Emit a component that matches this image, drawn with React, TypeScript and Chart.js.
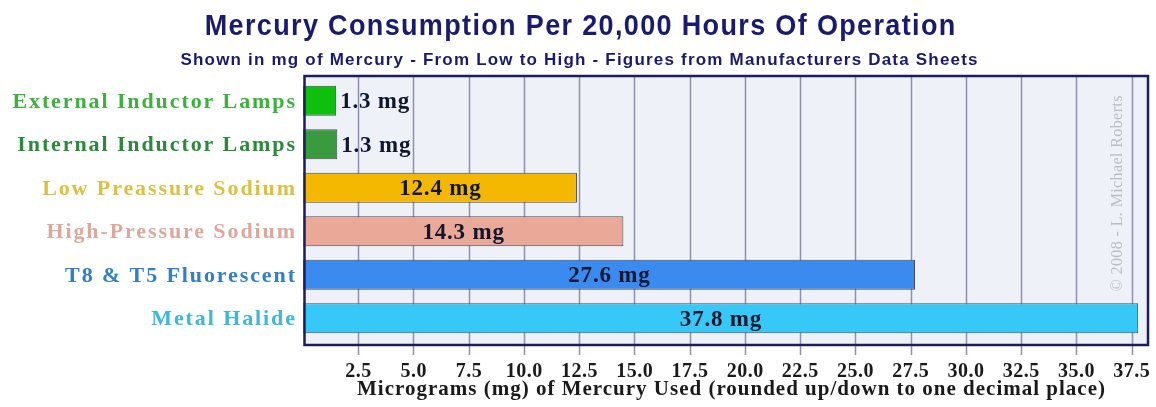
import React, { useEffect, useRef } from "react";
import { Chart, registerables } from "chart.js";

Chart.register(...registerables);

const categories = [
  "External Inductor Lamps",
  "Internal Inductor Lamps",
  "Low Preassure Sodium",
  "High-Pressure Sodium",
  "T8 & T5 Fluorescent",
  "Metal Halide",
];
// bar lengths as drawn in the picture
const values = [1.5, 1.55, 12.4, 14.5, 27.7, 37.8];
const valueLabels = ["1.3 mg", "1.3 mg", "12.4 mg", "14.3 mg", "27.6 mg", "37.8 mg"];
const barColors = ["#0cc00c", "#3a9a3e", "#f5b800", "#e9a898", "#3a8af0", "#38c8f8"];
const labelColors = ["#3cb23c", "#2a8a3a", "#dcc044", "#dca89c", "#2f80c8", "#3cb8d8"];
const tickValues = [2.5, 5, 7.5, 10, 12.5, 15, 17.5, 20, 22.5, 25, 27.5, 30, 32.5, 35, 37.5];
const tickLabels = ["2.5", "5.0", "7.5", "10.0", "12.5", "15.0", "17.5", "20.0", "22.5", "25.0", "27.5", "30.0", "32.5", "35.0", "37.5"];

const titleText = "Mercury Consumption Per 20,000 Hours Of Operation";
const subtitleText = "Shown in mg of Mercury - From Low to High - Figures from Manufacturers Data Sheets";
const xTitleText = "Micrograms (mg) of Mercury Used (rounded up/down to one decimal place)";
const watermarkText = "\u00A9 2008 - L. Michael Roberts";

const SERIF = "'Liberation Serif', 'Times New Roman', serif";
const SANS = "'Liberation Sans', Arial, sans-serif";

function drawText(
  ctx: CanvasRenderingContext2D,
  text: string,
  x: number,
  y: number,
  font: string,
  color: string,
  align: CanvasTextAlign,
  spacing: number,
  scaleX: number = 1
) {
  ctx.save();
  ctx.font = font;
  (ctx as any).letterSpacing = spacing + "px";
  ctx.fillStyle = color;
  ctx.textBaseline = "alphabetic";
  const w = (ctx.measureText(text).width - spacing) * scaleX;
  let sx = x;
  if (align === "center") sx = x - w / 2;
  else if (align === "right") sx = x - w;
  ctx.textAlign = "left";
  ctx.translate(sx, y);
  ctx.scale(scaleX, 1);
  ctx.fillText(text, 0, 0);
  ctx.restore();
}

const decorPlugin = {
  id: "decor",
  beforeDatasetsDraw(chart: any) {
    const { ctx, chartArea } = chart;
    const xs = chart.scales.x;
    const frameTop = chartArea.top - 3;
    const frameBottom = chartArea.bottom + 5;
    ctx.save();
    ctx.fillStyle = "#eef1f7";
    ctx.fillRect(chartArea.left, frameTop, chartArea.right - chartArea.left, frameBottom - frameTop);
    ctx.strokeStyle = "#9090ae";
    ctx.lineWidth = 1.5;
    tickValues.forEach((v) => {
      const px = Math.round(xs.getPixelForValue(v)) + 0.5;
      ctx.beginPath();
      ctx.moveTo(px, frameTop);
      ctx.lineTo(px, frameBottom + 10);
      ctx.stroke();
    });
    ctx.restore();
  },
  afterDatasetsDraw(chart: any) {
    const { ctx, chartArea } = chart;
    const xs = chart.scales.x;
    const ys = chart.scales.y;
    const frameTop = chartArea.top - 3;
    const frameBottom = chartArea.bottom + 5;
    ctx.save();
    ctx.strokeStyle = "#1e1e5c";
    ctx.lineWidth = 2.5;
    ctx.strokeRect(chartArea.left + 1.5, frameTop, chartArea.right - chartArea.left - 0.5, frameBottom - frameTop);
    ctx.restore();

    // watermark
    ctx.save();
    ctx.translate(xs.getPixelForValue(36.85), (frameTop + frameBottom) / 2 - 17);
    ctx.rotate(-Math.PI / 2);
    drawText(ctx, watermarkText, 0, 5, "16px " + SERIF, "#bcbec6", "center", 0.4);
    ctx.restore();

    // value labels
    const meta = chart.getDatasetMeta(0);
    const vFont = "bold 23px " + SERIF;
    meta.data.forEach((bar: any, i: number) => {
      ctx.save();
      ctx.font = vFont;
      (ctx as any).letterSpacing = "0.8px";
      const tw = ctx.measureText(valueLabels[i]).width;
      ctx.restore();
      const left = xs.getPixelForValue(0);
      const right = bar.x;
      const cy = bar.y + 7.5;
      if (right - left < tw + 10) {
        drawText(ctx, valueLabels[i], right + 4, cy, vFont, "#101830", "left", 0.8);
      } else {
        drawText(ctx, valueLabels[i], (left + right) / 2, cy, vFont, "#101830", "center", 0.8);
      }
    });

    // category labels
    categories.forEach((c, i) => {
      const cy = ys.getPixelForValue(i) + 7;
      drawText(ctx, c, 295, cy, "bold 22px " + SERIF, labelColors[i], "right", 1.9);
    });

    // x tick labels
    tickValues.forEach((v, i) => {
      drawText(ctx, tickLabels[i], xs.getPixelForValue(v), 377, "bold 20px " + SERIF, "#1a1a1a", "center", 0.5);
    });

    // axis title
    drawText(ctx, xTitleText, 731, 395, "bold 21px " + SERIF, "#1a1a1a", "center", 1.0);

    // titles
    drawText(ctx, titleText, 580, 35, "bold 30px " + SANS, "#1a1a6e", "center", 1.5, 0.9);
    drawText(ctx, subtitleText, 579, 65, "bold 17px " + SANS, "#1a1a6e", "center", 1.2, 1);
  },
};

export default function App() {
  const ref = useRef<HTMLCanvasElement | null>(null);
  useEffect(() => {
    document.body.style.margin = "0";
    document.body.style.background = "#ffffff";
    const canvas = ref.current!;
    const chart = new Chart(canvas, {
      type: "bar",
      data: {
        labels: categories,
        datasets: [
          {
            data: values,
            backgroundColor: barColors,
            borderColor: "#4a4a5a",
            borderWidth: 1,
            barPercentage: 0.69,
            categoryPercentage: 1,
          },
        ],
      },
      options: {
        indexAxis: "y",
        responsive: false,
        animation: false,
        devicePixelRatio: 1,
        layout: { padding: { top: 79, right: 9, left: 0, bottom: 0 } },
        plugins: {
          legend: { display: false },
          tooltip: { enabled: false },
          title: { display: false },
        },
        scales: {
          x: {
            type: "linear",
            min: 0,
            max: 38.2,
            grid: { display: false },
            border: { display: false },
            ticks: { display: false },
            afterFit: (s: any) => {
              s.height = 67;
            },
          },
          y: {
            type: "category",
            grid: { display: false },
            border: { display: false },
            ticks: { display: false },
            afterFit: (s: any) => {
              s.width = 303;
            },
          },
        },
      },
      plugins: [decorPlugin],
    } as any);
    return () => chart.destroy();
  }, []);
  return (
    <div style={{ width: 1156, height: 407, background: "#fff" }}>
      <canvas ref={ref} width={1156} height={407} style={{ display: "block" }} />
    </div>
  );
}
